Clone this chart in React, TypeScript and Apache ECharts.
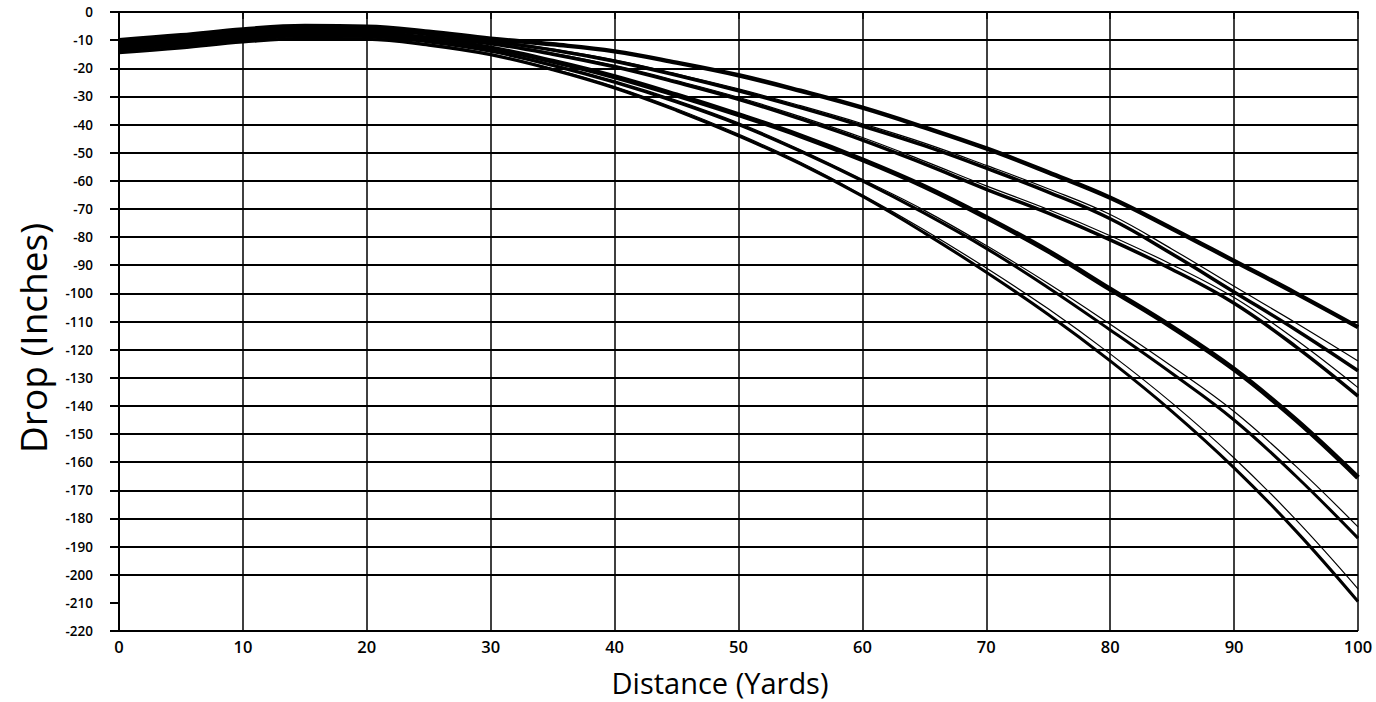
import React, { useEffect, useRef } from "react";
import * as echarts from "echarts";

// Distance (yards) sampled every 5 yards
const distances = [0, 5, 10, 15, 20, 25, 30, 35, 40, 45, 50, 55, 60, 65, 70, 75, 80, 85, 90, 95, 100];

// Drop (inches) for each trajectory
const dropA = [-10, -8.3, -6.2, -5, -5.2, -7, -9.5, -11.5, -14, -18, -22.5, -28, -34, -41, -48.5, -57, -66, -77, -88.5, -100, -112];
const dropB2 = [-10.5, -8.8, -6.7, -5.5, -5.7, -7.5, -10, -13.2, -17, -22, -27.3, -33.3, -39.7, -46.6, -54.5, -62.8, -72, -84.3, -97.5, -110.5, -124];
const dropB = [-11, -9.3, -7.2, -6, -6.2, -8, -10.4, -13.5, -17.5, -22.5, -28, -34, -40.5, -47.5, -55.5, -64, -73.5, -86, -99.5, -113, -127.5];
const dropC2 = [-11.5, -9.8, -7.7, -6.5, -6.7, -8.6, -10.9, -14.6, -19, -24.4, -30.3, -37.2, -44.6, -53, -61.8, -70.2, -79.5, -89.8, -101.5, -116.5, -133.5];
const dropC = [-12, -10.3, -8.2, -7, -7.2, -9.1, -11.3, -15, -19.5, -25, -31, -38, -45.5, -54, -63, -71.5, -81, -91.5, -103.5, -119, -136.5];
const dropD = [-12.5, -10.8, -8.7, -7.5, -7.7, -9.7, -12.8, -17.5, -23, -29.5, -36.5, -44, -52.5, -62, -73, -85, -98.5, -112, -127, -145, -165.5];
const dropE2 = [-13, -11.3, -9.2, -8, -8.2, -10.2, -13.6, -18.6, -24.5, -31.4, -39.4, -49, -59.5, -70.5, -83, -96.5, -111, -126, -142, -161.5, -183];
const dropE = [-13.5, -11.8, -9.7, -8.5, -8.7, -10.7, -14, -19, -25, -32, -40, -49.5, -60, -71.5, -84, -98, -113, -128.5, -145, -165, -187];
const dropF2 = [-14, -12.3, -10.2, -9, -9.2, -11.3, -14.8, -20.1, -26.5, -34.4, -43.4, -53.4, -65, -77.5, -91, -105.5, -121.5, -139, -158.5, -180.5, -205];
const dropF = [-14.5, -12.8, -10.7, -9.5, -9.7, -11.8, -15.2, -20.5, -27, -35, -44, -54, -65.5, -78.5, -92.5, -107.5, -124, -142, -162, -184.5, -209.5];

// Horizontal grid lines drawn on the chart (the -210 line is absent in the original)
const yGridLines = [0, -10, -20, -30, -40, -50, -60, -70, -80, -90, -100, -110, -120, -130, -140, -150, -160, -170, -180, -190, -200, -220];

const mainSeries: { name: string; data: number[]; width: number }[] = [
  { name: "A", data: dropA, width: 4.5 },
  { name: "B2", data: dropB2, width: 1.2 },
  { name: "B", data: dropB, width: 3.5 },
  { name: "C2", data: dropC2, width: 1.2 },
  { name: "C", data: dropC, width: 3.5 },
  { name: "D", data: dropD, width: 5 },
  { name: "E2", data: dropE2, width: 1.2 },
  { name: "E", data: dropE, width: 3 },
  { name: "F2", data: dropF2, width: 1.2 },
  { name: "F", data: dropF, width: 3 },
];

export default function App() {
  const ref = useRef<HTMLDivElement>(null);

  useEffect(() => {
    if (!ref.current) return;
    const chart = echarts.init(ref.current, undefined, { renderer: "svg" });
    const font = "'Open Sans', 'Noto Sans', sans-serif";
    const series: any[] = mainSeries.map((s) => ({
      name: s.name,
      type: "line",
      data: distances.map((d, i) => [d, s.data[i]]),
      smooth: 0.4,
      showSymbol: false,
      symbol: "none",
      lineStyle: { color: "#000", width: s.width },
      z: 3,
    }));
    series.push({
      name: "grid",
      type: "line",
      data: [],
      silent: true,
      z: 1,
      markLine: {
        silent: true,
        symbol: "none",
        label: { show: false },
        lineStyle: { color: "#000", width: 2, type: "solid" },
        data: yGridLines.map((v) => ({ yAxis: v })),
      },
    });
    chart.setOption({
      animation: false,
      backgroundColor: "#ffffff",
      grid: { left: 119, right: 18, top: 12, bottom: 71, containLabel: false },
      xAxis: {
        type: "value",
        min: 0,
        max: 100,
        interval: 10,
        axisLine: { show: true, lineStyle: { color: "#000", width: 2 } },
        axisTick: { show: true, length: 7, lineStyle: { color: "#000", width: 1.5 } },
        axisLabel: { fontFamily: font, fontSize: 16.5, lineHeight: 17, fontWeight: 600, color: "#000", margin: 7 },
        splitLine: { show: true, lineStyle: { color: "#000", width: 1.5 } },
      },
      yAxis: {
        type: "value",
        min: -220,
        max: 0,
        interval: 10,
        axisLine: { show: true, lineStyle: { color: "#000", width: 2 } },
        axisTick: { show: true, length: 9, lineStyle: { color: "#000", width: 2 } },
        axisLabel: { fontFamily: font, fontSize: 13.5, fontWeight: 600, color: "#000", margin: 26 },
        splitLine: { show: false },
      },
      graphic: [
        {
          type: "text",
          x: 32,
          y: 338,
          rotation: Math.PI / 2,
          style: {
            text: "Drop (Inches)",
            font: `37px ${font}`,
            fill: "#000",
            align: "center",
            verticalAlign: "middle",
          },
        },
        {
          type: "text",
          x: 720,
          y: 682,
          style: {
            text: "Distance (Yards)",
            font: `29px ${font}`,
            lineHeight: 29,
            fill: "#000",
            align: "center",
            verticalAlign: "middle",
          },
        },
      ],
      series,
    });
    return () => chart.dispose();
  }, []);

  return (
    <div
      ref={ref}
      style={{ position: "fixed", left: 0, top: 0, width: 1376, height: 702, background: "#fff" }}
    />
  );
}
